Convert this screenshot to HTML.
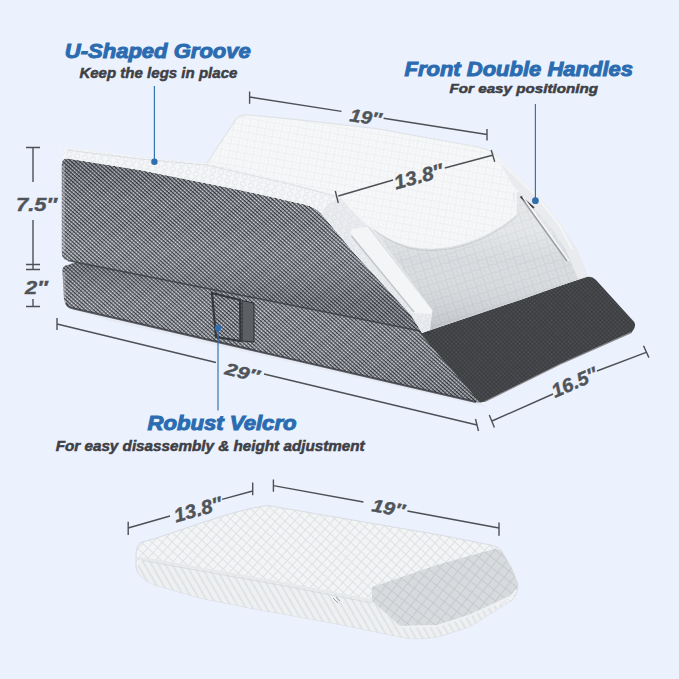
<!DOCTYPE html>
<html><head><meta charset="utf-8">
<style>
html,body{margin:0;padding:0;background:#ebf1fd;}
body{width:679px;height:679px;overflow:hidden;}
svg{display:block;}
text{font-family:"Liberation Sans",sans-serif;font-weight:bold;font-style:italic;}
</style></head><body>
<svg width="679" height="679" viewBox="0 0 679 679">
<defs>
  <pattern id="mesh" width="2.8" height="2.8" patternUnits="userSpaceOnUse" patternTransform="rotate(42)">
    <rect width="2.8" height="2.8" fill="#30333a"/>
    <rect x="0" y="0.45" width="2.8" height="1.2" fill="#9a9ea4"/>
    <circle cx="1.4" cy="1.05" r="0.85" fill="#e2e5ea"/>
  </pattern>
  <pattern id="meshd" width="3" height="3" patternUnits="userSpaceOnUse" patternTransform="rotate(45)">
    <rect width="3" height="3" fill="#3e3f42"/>
    <circle cx="1.5" cy="1.5" r="0.8" fill="#56585c"/>
  </pattern>
  <pattern id="foam" width="8" height="7" patternUnits="userSpaceOnUse" patternTransform="rotate(10)">
    <rect width="8" height="7" fill="#f7f8f9"/>
    <circle cx="2" cy="1.75" r="2.3" fill="none" stroke="#e9ebee" stroke-width="0.8"/>
    <circle cx="6" cy="5.25" r="2.3" fill="none" stroke="#e9ebee" stroke-width="0.8"/>
  </pattern>
  <pattern id="foamrim" width="8" height="7" patternUnits="userSpaceOnUse" patternTransform="rotate(12)">
    <rect width="8" height="7" fill="#f5f6f8"/>
    <circle cx="4" cy="3.5" r="2.6" fill="none" stroke="#dfe2e6" stroke-width="0.9"/>
  </pattern>
  <pattern id="foamg" width="9" height="8" patternUnits="userSpaceOnUse" patternTransform="rotate(-18)">
    <rect width="9" height="8" fill="#dadde0"/>
    <circle cx="2.25" cy="2" r="2.6" fill="none" stroke="#caced1" stroke-width="0.9"/>
    <circle cx="6.75" cy="6" r="2.6" fill="none" stroke="#caced1" stroke-width="0.9"/>
  </pattern>
  <pattern id="foamb" width="7" height="7" patternUnits="userSpaceOnUse" patternTransform="rotate(42)">
    <rect width="7" height="7" fill="#f3f4f6"/>
    <path d="M0,0.5 H7 M0.5,0 V7" stroke="#dcdfe2" stroke-width="0.9" fill="none"/>
  </pattern>
  <pattern id="foamside" width="6" height="6" patternUnits="userSpaceOnUse" patternTransform="rotate(60)">
    <rect width="6" height="6" fill="#eef0f2"/>
    <path d="M0,1 H6" stroke="#d6d9dc" stroke-width="1.2" fill="none"/>
  </pattern>
  <pattern id="foamg2" width="8" height="8" patternUnits="userSpaceOnUse" patternTransform="rotate(38)">
    <rect width="8" height="8" fill="#d8dbde"/>
    <path d="M0,0.5 H8 M0.5,0 V8" stroke="#c6c9cd" stroke-width="1" fill="none"/>
  </pattern>
  <linearGradient id="wshade" gradientUnits="userSpaceOnUse" x1="0" y1="160" x2="0" y2="300">
    <stop offset="0" stop-color="#1e2024" stop-opacity="0.2"/>
    <stop offset="0.3" stop-color="#1e2024" stop-opacity="0.0"/>
    <stop offset="0.6" stop-color="#ffffff" stop-opacity="0.05"/>
    <stop offset="1" stop-color="#1e2024" stop-opacity="0.15"/>
  </linearGradient>
  <linearGradient id="sshade" gradientUnits="userSpaceOnUse" x1="0" y1="262" x2="0" y2="400">
    <stop offset="0" stop-color="#1e2024" stop-opacity="0.2"/>
    <stop offset="0.4" stop-color="#ffffff" stop-opacity="0.04"/>
    <stop offset="1" stop-color="#1e2024" stop-opacity="0.12"/>
  </linearGradient>
  <linearGradient id="pshade" gradientUnits="userSpaceOnUse" x1="0" y1="230" x2="0" y2="330">
    <stop offset="0" stop-color="#ffffff" stop-opacity="0.3"/>
    <stop offset="0.3" stop-color="#ffffff" stop-opacity="0"/>
    <stop offset="1" stop-color="#6a7078" stop-opacity="0.22"/>
  </linearGradient>
  <linearGradient id="shadow" x1="0" y1="0" x2="0" y2="1">
    <stop offset="0" stop-color="#c9ced8" stop-opacity="0.7"/>
    <stop offset="1" stop-color="#ebf1fd" stop-opacity="0"/>
  </linearGradient>
</defs>
<rect width="679" height="679" fill="#ebf1fd"/>

<!-- soft shadow under slab -->
<path d="M70,309 L478,402 L486,407 L110,321 Z" fill="#dfe4ee" opacity="0.5"/>

<!-- bottom slab side face -->
<path d="M62.4,271 Q62.4,265.3 68,265 L76,262 L428,327 L484,401 Q481,404 476,402 L73.6,308.5 Q64.7,306 64,299 Z" fill="url(#mesh)"/>
<path d="M62.4,271 Q62.4,265.3 68,265 L76,262 L428,327 L484,401 Q481,404 476,402 L73.6,308.5 Q64.7,306 64,299 Z" fill="url(#sshade)"/>
<path d="M66,303 Q68,307.5 73.6,308.5 L476,402" stroke="#34363a" stroke-width="2" fill="none" opacity="0.8"/>
<!-- dark front face of slab -->
<path d="M418,331 L587,277 Q592,276 596,280 L634,321.8 Q637,326 631.6,332.4 L560,364.3 L485,401.5 Q480,403 478,400 Z" fill="url(#meshd)"/>
<path d="M631.6,332.4 L560,364.3 L485,401.5" stroke="#8a8c90" stroke-width="1.2" fill="none"/>

<!-- top wedge side face -->
<path d="M61.8,165 Q61.8,158 68,158.5 L140,170 L190,180 L240,190 L305,204.5 Q315,207 320.6,213 L356,255 L380,281 L411,315 L430,333 L68,260.5 Q62,260 61.8,253 Z" fill="url(#mesh)"/>
<path d="M61.8,165 Q61.8,158 68,158.5 L140,170 L190,180 L240,190 L305,204.5 Q315,207 320.6,213 L356,255 L380,281 L411,315 L430,333 L68,260.5 Q62,259 61.8,252 Z" fill="url(#wshade)"/>
<path d="M68,260.5 L430,333" stroke="#2e3035" stroke-width="1.5" opacity="0.7"/>
<path d="M63.5,165 L63.5,252" stroke="#c4c7cc" stroke-width="2.5" opacity="0.45"/>
<path d="M64,272 L64.5,298" stroke="#c4c7cc" stroke-width="2.5" opacity="0.4"/>

<!-- white foam -->
<path d="M62.8,147 L140,157 L206,164 L236,119 Q240,114.5 249,114.8 L300,119.8 L376.7,128.7 L470,145.5 Q487.7,148.2 494.7,154 L519.5,177.7 L534.8,191.8 L561.2,224.7 L575.7,247.4 L586,272.2 L587,276.3 L520,300 L422,333 L411,315 L380,281 L356,255 L320.6,213 Q315,207 305,204.5 L240,190 L190,180 L140,170 L68,158.5 Q61.8,158 61.8,155 Z" fill="url(#foam)"/>
<path d="M207,163 L236,119 Q240,114.5 249,114.8 L300,119.8 L376.7,128.7 L470,145.5 Q487.7,148.2 494.7,154" stroke="#e0e3e7" stroke-width="1.2" fill="none"/>
<!-- rim shading -->
<path d="M62.8,147 L140,157 L206,163 L290,182 L338,196 L320.6,213 Q315,207 305,204.5 L240,190 L190,180 L140,170 L68,158.5 Q61.8,158 61.8,155 Z" fill="url(#foamrim)"/>
<path d="M66,150 L140,159 L206,165 L290,184 L338,197" stroke="#dcdfe3" stroke-width="1" fill="none"/>
<!-- side border band -->
<path d="M320.6,213 Q330,200 342,197 C352,210 360,219 372,227 L432.5,310 L430,330 L422,333 L411,315 L380,281 L356,255 Z" fill="url(#foamrim)"/>
<path d="M320.6,213 Q330,200 342,197 C352,210 360,219 372,227 L432.5,310 L430,330 L422,333 L411,315 L380,281 L356,255 Z" fill="#d8dbdf" opacity="0.35"/>
<!-- front lower panel -->
<path d="M372,227 C392,241 410,247.4 427,247.4 C460,249 495,232 515.6,213.6 L513,192 L534.8,191.8 L561.2,224.7 L575.7,247.4 L586,272.2 L587,276.3 L520,300 L430,330 L432.5,310 Z" fill="url(#foamg)"/>
<path d="M372,227 C392,241 410,247.4 427,247.4 C460,249 495,232 515.6,213.6 L513,192 L534.8,191.8 L561.2,224.7 L575.7,247.4 L586,272.2 L587,276.3 L520,300 L430,330 L432.5,310 Z" fill="url(#pshade)"/>
<!-- groove piping -->
<path d="M342,197 C352,210 360,219 372,227 C392,241 410,247.4 427,247.4 C460,249 495,232 515.6,213.6 L515.6,192" stroke="#f4f5f7" stroke-width="2.4" fill="none"/>
<path d="M374,230 C393,244 410,250.4 427,250.4 C461,252 496,235 517,216" stroke="#b9bcc1" stroke-width="0.8" fill="none" opacity="0.7"/>
<!-- left handle strap -->
<path d="M350.6,233 L352,229 L368.3,226.8 L432.5,310 L431,314 L414,313 Z" fill="#f4f5f7"/>
<path d="M351.5,236 L414,312" stroke="#c2c5c9" stroke-width="1.4"/>
<path d="M368.3,227 L432.5,310" stroke="#d6d9dc" stroke-width="1"/>
<!-- right handle band -->
<path d="M494.7,154 L519.5,177.7 L534.8,191.8 L561.2,224.7 L575.7,247.4 L586,272.2 L587,276.3 L578,279 L566,250 L550,226 L512,184 Z" fill="#e9ebee"/>
<path d="M497,158 L519.5,180 L534.8,194 L560,226 L572,249" stroke="#f3f4f6" stroke-width="2.5" fill="none"/>
<path d="M521,197 L567,261" stroke="#9da1a6" stroke-width="1.8"/>
<path d="M520.5,196.5 L534,208" stroke="#3f4349" stroke-width="1.8"/>
<path d="M523,197 L569,261" stroke="#f6f7f8" stroke-width="1.5"/>

<!-- velcro -->
<path d="M212,293 L240,300 L240.5,341 L216,337 Z" fill="url(#mesh)" stroke="#34363a" stroke-width="2.2"/>
<path d="M242,300.6 L254,303 L254,342 L242,341 Z" fill="#5c5f63" stroke="#2d2f33" stroke-width="1"/>

<!-- dimension lines -->
<g stroke="#4d5156" stroke-width="1.4" fill="none">
  <path d="M26,147.5 H40 M33,147.5 V182 M33,220 V270 M26,264.5 H40 M26,269.5 H40 M33,299 V306.5 M26,306.5 H40"/>
  <path d="M249.6,91.5 V103.7 M249.6,97 L341.5,111.4 M383.6,118.3 L487,134.5 M487,129 V140.5"/>
  <path d="M335.3,191 L338.3,203 M338.3,196 L393,180 M444.8,168 L492.4,155.3 M491.2,150 L494.7,161.8"/>
  <path d="M57,318 V330 M57,324 L216,362.5 M264,374 L477,425 M475.5,419 L478.5,431"/>
  <path d="M489.3,415 L494.4,427.4 M492,421 L553,394 M597,371 L646.2,352.3 M643.5,345.7 L648.9,357.6"/>
  <path d="M128.2,521.8 V535 M128.2,528 L170,516 M222,499.4 L252.7,491 M252.7,482.6 V495.2"/>
  <path d="M273.4,479.5 V491.8 M273.4,485.6 L363.4,502 M407.4,511 L499,528 M499,522.4 V535.8"/>
</g>
<!-- callout lines -->
<g stroke="#2f6fae" stroke-width="1.15">
  <line x1="154.4" y1="86" x2="154.4" y2="161.8"/>
  <line x1="535.4" y1="104" x2="535.4" y2="200.7"/>
  <line x1="218" y1="328" x2="218" y2="410.5"/>
</g>
<g fill="#2f6fae">
  <circle cx="154.4" cy="161.8" r="3.2"/>
  <circle cx="535.4" cy="200.7" r="3.4"/>
  <circle cx="218" cy="328" r="3.2"/>
</g>

<!-- labels -->
<g fill="#2b6cb1" stroke="#2b6cb1" stroke-width="1.0">
  <text x="64.8" y="57.8" font-size="20.6" textLength="186" lengthAdjust="spacingAndGlyphs">U-Shaped Groove</text>
  <text x="404.5" y="76" font-size="20.5" textLength="228.5" lengthAdjust="spacingAndGlyphs">Front Double Handles</text>
  <text x="147.5" y="429.5" font-size="19.5" textLength="149" lengthAdjust="spacingAndGlyphs">Robust Velcro</text>
</g>
<g fill="#3e4045" stroke="#3e4045" stroke-width="0.5">
  <text x="79.4" y="78" font-size="15" textLength="158" lengthAdjust="spacingAndGlyphs">Keep the legs in place</text>
  <text x="449.5" y="93" font-size="13" textLength="148.5" lengthAdjust="spacingAndGlyphs">For easy positioning</text>
  <text x="55.7" y="450.7" font-size="14" textLength="309" lengthAdjust="spacingAndGlyphs">For easy disassembly &amp; height adjustment</text>
</g>
<g fill="#505459" stroke="#505459" stroke-width="0.4">
  <text x="16" y="210.5" font-size="19" textLength="41" lengthAdjust="spacingAndGlyphs">7.5″</text>
  <text x="25" y="293.8" font-size="18.5" textLength="22.7" lengthAdjust="spacingAndGlyphs">2″</text>
  <text transform="translate(349,121) rotate(8.5)" font-size="18" textLength="32" lengthAdjust="spacingAndGlyphs">19″</text>
  <text transform="translate(396,189.5) rotate(-15)" font-size="19.5" textLength="50" lengthAdjust="spacingAndGlyphs">13.8″</text>
  <text transform="translate(224,374) rotate(13.6)" font-size="17" textLength="35" lengthAdjust="spacingAndGlyphs">29″</text>
  <text transform="translate(555,398) rotate(-23.4)" font-size="19.5" textLength="48" lengthAdjust="spacingAndGlyphs">16.5″</text>
  <text transform="translate(176,522.5) rotate(-15.5)" font-size="19.5" textLength="49" lengthAdjust="spacingAndGlyphs">13.8″</text>
  <text transform="translate(371,511) rotate(10.9)" font-size="18" textLength="33" lengthAdjust="spacingAndGlyphs">19″</text>
</g>

<!-- bottom pillow -->
<path d="M136,556 Q136,545 141,542.5 C172,534.5 232,509.5 268,505.5 L440,535 L488.5,544.6 Q497,546 501,550 L511,567 L517.7,583.4 Q519,592 512,600 L470,626.5 L443.6,635.3 Q430,639.5 408,638.5 L338,624 L250,608 L200,598 L155,585 Q138,578 136,568 Z" fill="url(#foamb)"/>
<path d="M136,556 Q136,545 141,542.5 C172,534.5 232,509.5 268,505.5 L440,535 L488.5,544.6 Q497,546 501,550 L511,567 L517.7,583.4 Q519,592 512,600 L470,626.5 L443.6,635.3 Q430,639.5 408,638.5 L338,624 L250,608 L200,598 L155,585 Q138,578 136,568 Z" fill="none" stroke="#d9dce0" stroke-width="1"/>
<path d="M140,558 L168,562.6 L285,583.6 L372,601 L400,626 L437.7,625 L470,614.7 L512,600 L470,626.5 L443.6,635.3 Q430,639.5 408,638.5 L338,624 L250,608 L200,598 L155,585 Q140,579 137,569 Z" fill="url(#foamside)" opacity="0.9"/>
<path d="M372,587 L440,564 L495,548.8 Q500,549 502,552 L511,567 L517.7,583.4 Q518,590 512,596 L470,614.7 L437.7,625 L400,626 L372,601 Z" fill="url(#foamg2)"/>
<path d="M516,590 Q514,594 510,597 L470,615.5 L437.7,626 L400,627" stroke="#eef0f2" stroke-width="2.2" fill="none"/>
<path d="M141,558 L168,562.6 L285,583.6 L372,600.5" stroke="#e6e8ea" stroke-width="2.2" fill="none"/>
<path d="M143,560.5 L168,565 L285,586 L372,603" stroke="#d3d6da" stroke-width="0.8" fill="none"/>
<path d="M333,598 L338,603 M336,597 L340,601" stroke="#9a9ea3" stroke-width="0.9"/>
</svg>
</body></html>
